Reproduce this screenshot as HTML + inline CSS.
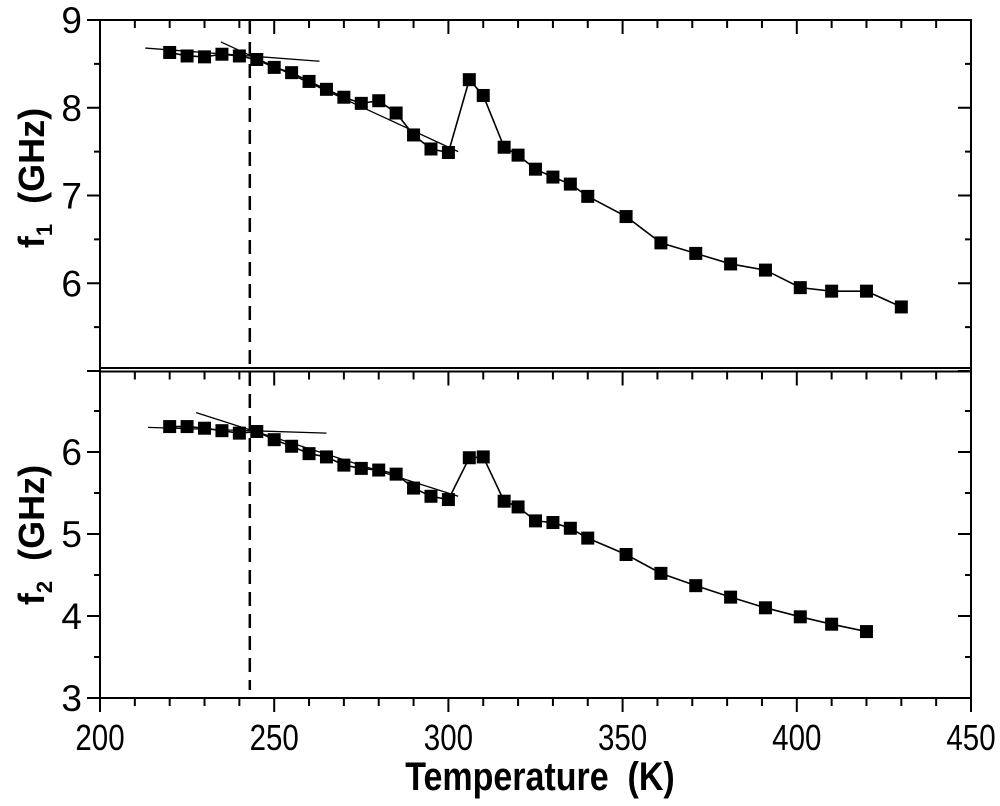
<!DOCTYPE html>
<html><head><meta charset="utf-8"><style>
html,body{margin:0;padding:0;background:#fff;width:1000px;height:806px;overflow:hidden}
svg{display:block}
text{font-family:"Liberation Sans",Arial,sans-serif}
</style></head><body>
<svg id="s" width="1000" height="806" viewBox="0 0 1000 806" xmlns="http://www.w3.org/2000/svg">
<g id="g" stroke="#000" fill="none"></g>
<g id="t" fill="#000"></g>
</svg>
<script>
const X=T=>100+(T-200)*3.484;
const Y1=v=>20+(9-v)*87.75;
const Y2=v=>698-(v-3)*82;
const g=document.getElementById('g'),tg=document.getElementById('t');
const NS="http://www.w3.org/2000/svg";
function el(p,n,a,txt){const e=document.createElementNS(NS,n);for(const k in a)e.setAttribute(k,a[k]);if(txt!==undefined)e.textContent=txt;p.appendChild(e);return e;}
function L(x1,y1,x2,y2,w,extra){const a={x1,y1,x2,y2,'stroke-width':w||2};Object.assign(a,extra||{});return el(g,'line',a);}
L(100,20,100,698,2);L(971,20,971,698,2);L(99,20,972,20,2);
L(99,368,972,368,2);L(99,371.5,972,371.5,2);L(99,698,972,698,2);
for(let T=200;T<=450;T+=10){const x=X(T),maj=T%50==0;const len=maj?14:8;
 L(x,20,x,20+len,2);L(x,371.5,x,371.5+len,2);L(x,698,x,698+len,2);
 if(maj)el(tg,'text',{x:x,y:750,'font-size':36,'text-anchor':'middle',transform:`translate(${x},0) scale(0.82,1) translate(${-x},0)`},T);}
for(let v=5;v<=9;v+=0.5){const y=Y1(v),maj=v%1==0;const len=maj?13:6;
 L(100-len,y,100,y,2);L(971-len,y,971,y,2);
 if(maj&&v>5)el(tg,'text',{x:82,y:y+13,'font-size':37,'text-anchor':'end'},v);}
for(let v=3;v<=6.5;v+=0.5){const y=Y2(v),maj=v%1==0;const len=maj?13:6;
 L(100-len,y,100,y,2);L(971-len,y,971,y,2);
 if(maj)el(tg,'text',{x:82,y:y+13,'font-size':37,'text-anchor':'end'},v);}
el(tg,'text',{x:0,y:0,'font-size':36,'font-weight':'bold','text-anchor':'middle',transform:'translate(44,178) rotate(-90)'}).innerHTML='f<tspan font-size="22" dy="8">1</tspan><tspan dy="-8">\u00a0\u00a0(GHz)</tspan>';
el(tg,'text',{x:0,y:0,'font-size':36,'font-weight':'bold','text-anchor':'middle',transform:'translate(44,535) rotate(-90)'}).innerHTML='f<tspan font-size="22" dy="8">2</tspan><tspan dy="-8">\u00a0\u00a0(GHz)</tspan>';
el(tg,'text',{x:0,y:0,'font-size':40,'font-weight':'bold','text-anchor':'middle',transform:'translate(540,790) scale(0.85,1)'},'Temperature\u00a0\u00a0(K)');
L(X(243),20,X(243),690,2.5,{'stroke-dasharray':'14,8'});
L(X(213),Y1(8.68),X(263),Y1(8.53),1.3);L(X(234.7),Y1(8.75),X(302.8),Y1(7.50),1.3);
L(X(213.8),Y2(6.30),X(265),Y2(6.23),1.3);L(X(227.6),Y2(6.48),X(302.8),Y2(5.46),1.3);
const d1=[[220,8.63],[225,8.59],[230,8.58],[235,8.61],[240,8.59],[245,8.55],[250,8.46],[255,8.40],[260,8.30],[265,8.21],[270,8.12],[275,8.05],[280,8.08],[285,7.94],[290,7.69],[295,7.53],[300,7.49],[306,8.32],[310,8.14],[316,7.55],[320,7.46],[325,7.30],[330,7.21],[335,7.13],[340,6.99],[351,6.76],[361,6.46],[371,6.34],[381,6.22],[391,6.15],[401,5.95],[410,5.91],[420,5.91],[430,5.73]];
const d2=[[220,6.31],[225,6.31],[230,6.29],[235,6.26],[240,6.23],[245,6.25],[250,6.15],[255,6.07],[260,5.98],[265,5.94],[270,5.84],[275,5.80],[280,5.78],[285,5.73],[290,5.56],[295,5.46],[300,5.42],[306,5.93],[310,5.94],[316,5.40],[320,5.33],[325,5.16],[330,5.14],[335,5.07],[340,4.95],[351,4.75],[361,4.52],[371,4.37],[381,4.23],[391,4.10],[401,3.99],[410,3.90],[420,3.81]];
function series(d,Y){el(g,'polyline',{points:d.map(p=>X(p[0])+','+Y(p[1])).join(' '),'stroke-width':1.6});
 d.forEach(p=>el(tg,'rect',{x:X(p[0])-6.5,y:Y(p[1])-6.5,width:13,height:13}));}
series(d1,Y1);series(d2,Y2);
</script>
</body></html>
